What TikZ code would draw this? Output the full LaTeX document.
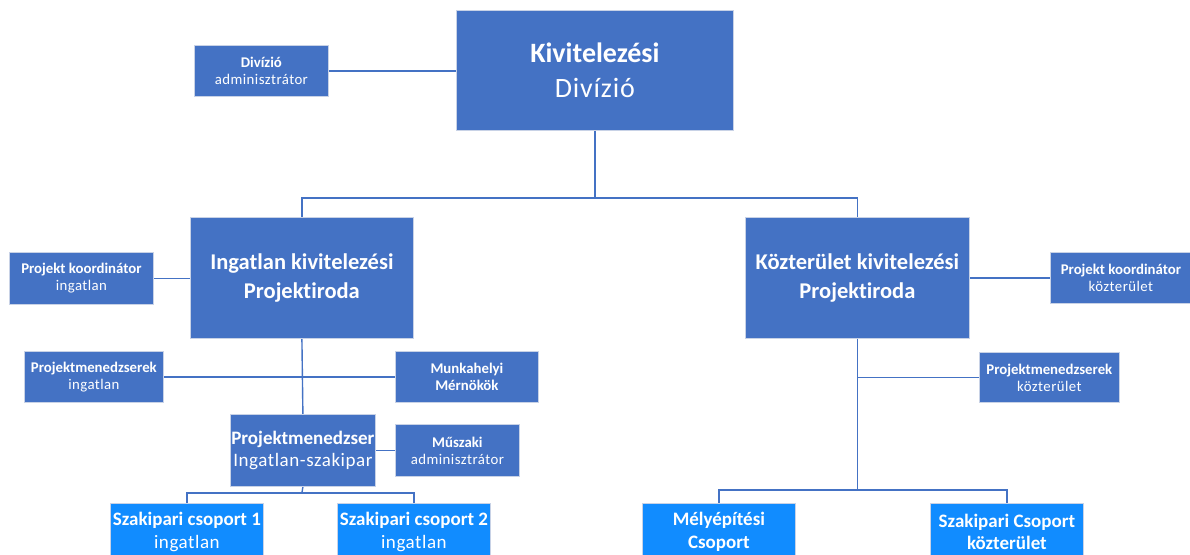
\documentclass[tikz,border=0pt]{standalone}
\usepackage{fontspec}
\setmainfont{Carlito}[Ligatures={NoCommon,NoDiscretionary,NoRare}]
\definecolor{boxblue}{HTML}{4472C4}
\definecolor{brightblue}{HTML}{118CFF}
\definecolor{edgegrey}{HTML}{C8D2E6}
\pgfdeclarelayer{paper}
\pgfdeclarelayer{lines}
\pgfsetlayers{paper,lines,main}
\newcommand{\lite}[1]{{\addfontfeature{LetterSpace=3}#1}}
\tikzset{
  unit/.style={draw=edgegrey, line width=0.8pt, fill=boxblue, text=white,
    anchor=north west, inner sep=0pt, align=center},
  team/.style={unit, fill=brightblue},
  small/.style={font=\fontsize{14.8}{17}\selectfont},
  mid/.style={font=\fontsize{19}{22.5}\selectfont},
  large/.style={font=\fontsize{22.5}{29}\selectfont\bfseries},
  huge/.style={font=\fontsize{28}{35}\selectfont},
  link/.style={draw=boxblue, line width=1.4pt},
}
\begin{document}
\begin{tikzpicture}[x=1pt, y=-1pt]
\useasboundingbox (0,0) rectangle (1190,554);
\begin{pgfonlayer}{paper}
\fill[white] (0,0) rectangle (1190,554);
\end{pgfonlayer}
\clip (0,0) rectangle (1190,554);

% top level
\node[unit, huge, minimum width=277pt, minimum height=120pt] (top) at (456,10)
  {\textbf{Kivitelezési}\\\lite{Divízió}};
\node[unit, small, minimum width=134pt, minimum height=51pt] (adm) at (194,45)
  {\textbf{Divízió}\\\lite{adminisztrátor}};

% project offices
\node[unit, large, minimum width=223pt, minimum height=121pt] (ing) at (190,217)
  {Ingatlan kivitelezési\\Projektiroda};
\node[unit, large, minimum width=224pt, minimum height=121pt] (koz) at (745,217)
  {Közterület kivitelezési\\Projektiroda};

\node[unit, small, minimum width=144pt, minimum height=52pt] (pki) at (9,252)
  {\textbf{Projekt koordinátor}\\\lite{ingatlan}};
\node[unit, small, minimum width=141pt, minimum height=51pt] (pkk) at (1050,252)
  {\textbf{Projekt koordinátor}\\\lite{közterület}};

% property branch
\node[unit, small, minimum width=139pt, minimum height=51pt] (pmi) at (24,351)
  {\textbf{Projektmenedzserek}\\\lite{ingatlan}};
\node[unit, small, minimum width=143pt, minimum height=51pt] (mm) at (395,351)
  {\textbf{Munkahelyi}\\\textbf{Mérnökök}};
\node[unit, mid, minimum width=145pt, minimum height=72pt] (pm) at (230,414)
  {\textbf{Projektmenedzser}\\\lite{Ingatlan-szakipar}};
\node[unit, small, minimum width=124pt, minimum height=52pt] (msz) at (395,424)
  {\textbf{Műszaki}\\\lite{adminisztrátor}};
\node[team, mid, minimum width=153pt, minimum height=57pt] (sz1) at (110,503)
  {\textbf{Szakipari csoport 1}\\\lite{ingatlan}};
\node[team, mid, minimum width=153pt, minimum height=57pt] (sz2) at (337,503)
  {\textbf{Szakipari csoport 2}\\\lite{ingatlan}};

% public works branch
\node[unit, small, minimum width=140pt, minimum height=50pt] (pmk) at (979,352)
  {\textbf{Projektmenedzserek}\\\lite{közterület}};
\node[team, mid, minimum width=153pt, minimum height=57pt] (mely) at (642,503)
  {\textbf{Mélyépítési}\\\textbf{Csoport}};
\node[team, mid, minimum width=153pt, minimum height=57pt] (szk) at (930,503)
  {\textbf{Szakipari Csoport}\\\textbf{közterület}};

% junctions of the tree lines
\coordinate (j1) at (top.south |- 0,198);
\coordinate (j2) at (ing.south |- 0,493);
\coordinate (j3) at (koz.south |- 0,490);

% connectors, kept beneath the boxes
\begin{pgfonlayer}{lines}
\path[link] (adm.east) -- (top.west |- adm.east);
\path[link] (top.south) -- (j1);
\path[link] (ing.north) |- (j1) -| (koz.north);
\path[link] (pki.east) -- (ing.west |- pki.east);
\path[link] (koz.east |- pkk.west) -- (pkk.west);
\path[link] (ing.south) -- (pm.north);
\path[link] (pmi.east) -- (mm.west);
\path[link] (pm.east |- msz.west) -- (msz.west);
\path[link] (pm.south) -- (j2);
\path[link] (sz1.north) |- (j2) -| (sz2.north);
\path[link] (koz.south) -- (j3);
\path[link] (koz.south |- pmk.west) -- (pmk.west);
\path[link] (mely.north) |- (j3) -| (szk.north);
\end{pgfonlayer}
\end{tikzpicture}
\end{document}
